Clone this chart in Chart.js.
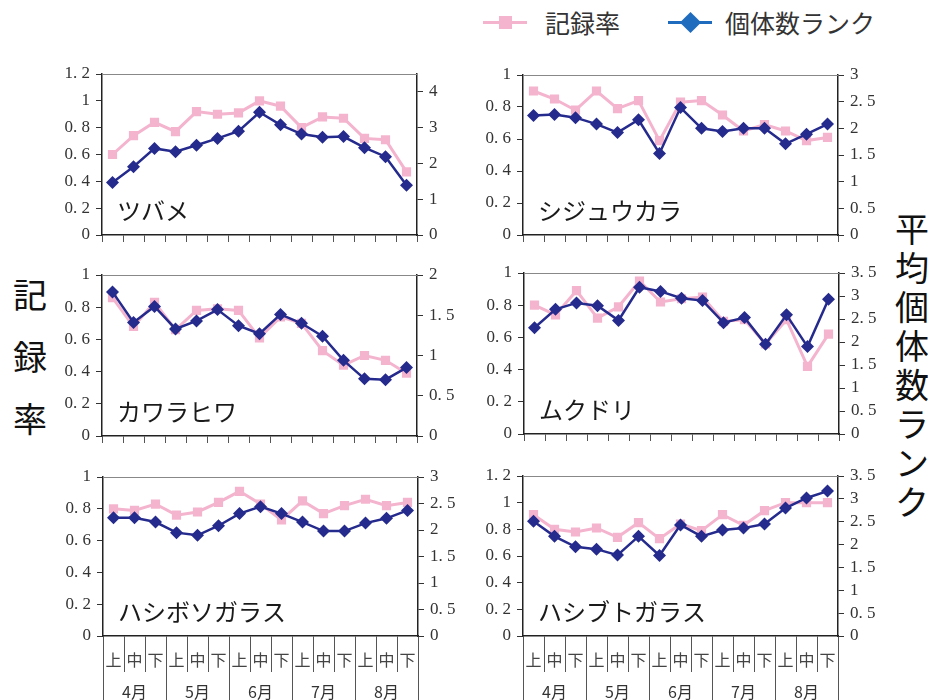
<!DOCTYPE html>
<html><head><meta charset="utf-8">
<script src="https://cdn.jsdelivr.net/npm/chart.js@4.4.1/dist/chart.umd.min.js"></script>
<style>
body{margin:0;background:#fff;width:928px;height:700px;overflow:hidden;position:relative;font-family:"Noto Sans CJK JP",sans-serif;}
canvas{position:absolute;}
.vt{position:absolute;text-align:center;color:#111;font-family:"Noto Sans CJK JP";}
.lg{position:absolute;font-family:"Noto Sans CJK JP";font-size:25px;color:#333;line-height:30px;}
.ln{position:absolute;height:3px;}
.mk{position:absolute;}
</style></head><body>
<div class="vt" style="left:10px;top:263px;width:40px;font-size:34px;line-height:62px;">記<br>録<br>率</div>
<div class="vt" style="left:892px;top:208px;width:40px;font-size:34px;line-height:39px;">平<br>均<br>個<br>体<br>数<br>ラ<br>ン<br>ク</div>
<div class="ln" style="left:483px;top:21px;width:44px;background:#F4B4CE;"></div>
<div class="mk" style="left:499px;top:16px;width:13px;height:13px;background:#F4B4CE;"></div>
<div class="lg" style="left:545px;top:7px;">記録率</div>
<div class="ln" style="left:668px;top:21px;width:44px;background:#1F6CBF;"></div>
<div class="mk" style="left:683px;top:15px;width:15px;height:15px;background:#1F6CBF;transform:rotate(45deg);"></div>
<div class="lg" style="left:725px;top:7px;">個体数ランク</div>
<script>
const months = ['4月','5月','6月','7月','8月'];
const thirds = ['上','中','下'];
const categories = months.flatMap(() => thirds);

const tsubameRate    = [0.60,0.74,0.84,0.77,0.92,0.90,0.91,1.00,0.96,0.80,0.88,0.87,0.72,0.71,0.47];
const tsubameRank    = [1.47,1.91,2.42,2.33,2.51,2.70,2.90,3.43,3.08,2.82,2.73,2.75,2.44,2.19,1.39];
const shijukaraRate  = [0.90,0.85,0.78,0.90,0.79,0.84,0.59,0.83,0.84,0.75,0.65,0.69,0.65,0.59,0.61];
const shijukaraRank  = [2.24,2.26,2.20,2.08,1.92,2.16,1.53,2.39,2.00,1.94,2.00,2.00,1.71,1.89,2.08];
const kawarahiwaRate = [0.86,0.68,0.83,0.66,0.78,0.79,0.78,0.61,0.74,0.70,0.53,0.44,0.50,0.47,0.39];
const kawarahiwaRank = [1.79,1.41,1.61,1.33,1.43,1.57,1.37,1.27,1.51,1.40,1.24,0.94,0.71,0.70,0.85];
const mukudoriRate   = [0.80,0.74,0.89,0.72,0.79,0.95,0.82,0.84,0.85,0.70,0.71,0.56,0.71,0.42,0.62];
const mukudoriRank   = [2.31,2.71,2.85,2.79,2.47,3.19,3.10,2.95,2.90,2.42,2.53,1.95,2.59,1.90,2.93];
const hashibosoRate  = [0.80,0.79,0.83,0.76,0.78,0.84,0.91,0.83,0.73,0.85,0.77,0.82,0.86,0.82,0.84];
const hashibosoRank  = [2.23,2.23,2.15,1.95,1.90,2.08,2.31,2.44,2.31,2.15,1.98,1.98,2.13,2.22,2.37];
const hashibutoRate  = [0.91,0.80,0.78,0.81,0.74,0.85,0.73,0.84,0.79,0.91,0.83,0.94,1.00,1.00,1.00];
const hashibutoRank  = [2.51,2.18,1.95,1.90,1.77,2.18,1.76,2.43,2.18,2.32,2.36,2.45,2.80,3.02,3.17];

const seriesNames = ['記録率','個体数ランク'];

const panels = [
  {name:'ツバメ',        rate:tsubameRate,    rank:tsubameRank,    lMax:1.2, lStep:0.2, rMax:4.5, rStep:1,   rTop:4,   l:102, t:74,  b:235, last:false},
  {name:'シジュウカラ',  rate:shijukaraRate,  rank:shijukaraRank,  lMax:1,   lStep:0.2, rMax:3,   rStep:0.5, rTop:3,   l:523, t:75,  b:235, last:false},
  {name:'カワラヒワ',    rate:kawarahiwaRate, rank:kawarahiwaRank, lMax:1,   lStep:0.2, rMax:2,   rStep:0.5, rTop:2,   l:102, t:275, b:436, last:false},
  {name:'ムクドリ',      rate:mukudoriRate,   rank:mukudoriRank,   lMax:1,   lStep:0.2, rMax:3.5, rStep:0.5, rTop:3.5, l:524, t:273, b:434, last:false},
  {name:'ハシボソガラス',rate:hashibosoRate,  rank:hashibosoRank,  lMax:1,   lStep:0.2, rMax:3,   rStep:0.5, rTop:3,   l:103, t:477, b:636, last:true},
  {name:'ハシブトガラス',rate:hashibutoRate,  rank:hashibutoRank,  lMax:1.2, lStep:0.2, rMax:3.5, rStep:0.5, rTop:3.5, l:523, t:476, b:636, last:true}
];

const PINK = '#F4B4CE', NAVY = '#252A8D';
function fmt(v){ const r = Math.round(v*10)/10; if (Number.isInteger(r)) return String(r); return r.toFixed(1).replace('.', '. '); }
function zeroPad(s){ s.paddingTop = 0; s.paddingBottom = 0; s.paddingLeft = 0; s.paddingRight = 0; }

const frameAndLabel = {
  id:'frameAndLabel',
  beforeDatasetsDraw(chart, args, opts){
    const {ctx, chartArea:a} = chart;
    ctx.save();
    ctx.strokeStyle = '#888'; ctx.lineWidth = 1;
    ctx.beginPath(); ctx.moveTo(a.left, a.top+0.5); ctx.lineTo(a.right, a.top+0.5); ctx.stroke();
    ctx.fillStyle = '#1a1a1a';
    ctx.font = '24px "Noto Sans CJK JP"';
    ctx.textBaseline = 'middle';
    ctx.fillText(opts.text, a.left + 15, a.bottom - 24);
    ctx.restore();
  }
};

const PADL = 50, PADT = 12, W = 315;
panels.forEach(p => {
  const xh = p.last ? 64 : 12;
  const cv = document.createElement('canvas');
  const cw = W + 2*PADL, ch = (p.b - p.t) + PADT + xh;
  cv.width = cw; cv.height = ch;
  cv.style.left = (p.l - PADL) + 'px'; cv.style.top = (p.t - PADT) + 'px';
  cv.style.width = cw + 'px'; cv.style.height = ch + 'px';
  document.body.appendChild(cv);

  const scales = {
    x: {
      type:'category', labels: categories, offset:true, position:'bottom', weight:0,
      grid:{offset:true, drawOnChartArea:false, drawTicks:true, tickLength: p.last ? 36 : 7, color:'#555', lineWidth:1},
      border:{display:true, color:'#222', width:1.5},
      ticks:{display:p.last, autoSkip:false, maxRotation:0, padding:-22, color:'#444', font:{family:'"Noto Sans CJK JP"', size:16}},
      afterFit: s => { s.height = p.last ? 36 : 12; zeroPad(s); }
    },
    y: {
      type:'linear', position:'left', min:0, max:p.lMax,
      grid:{drawOnChartArea:false, tickLength:6, color:'#333'},
      border:{color:'#222', width:1.5},
      ticks:{stepSize:p.lStep, autoSkip:false, maxTicksLimit:50, padding:6, color:'#333', font:{family:'Liberation Serif', size:17}, callback: v => fmt(v)},
      afterFit: s => { s.width = PADL; zeroPad(s); }
    },
    y1: {
      type:'linear', position:'right', min:0, max:p.rMax,
      grid:{drawOnChartArea:false, tickLength:6, color:'#333'},
      border:{color:'#222', width:1.5},
      ticks:{stepSize:p.rStep, autoSkip:false, maxTicksLimit:50, includeBounds:false, padding:6, color:'#333', font:{family:'Liberation Serif', size:17}, callback: v => fmt(v)},
      afterBuildTicks: s => { s.ticks = s.ticks.filter(t => t.value <= p.rTop + 1e-9); },
      afterFit: s => { s.width = PADL; zeroPad(s); }
    }
  };
  if (p.last) {
    scales.x2 = {
      type:'category', labels: months, offset:true, position:'bottom', weight:1,
      grid:{offset:true, drawOnChartArea:false, drawTicks:true, tickLength:30, color:'#555', lineWidth:1},
      border:{display:false},
      ticks:{autoSkip:false, maxRotation:0, padding:-20, color:'#333', font:{family:'"Noto Sans CJK JP"', size:16}},
      afterFit: s => { s.height = 28; zeroPad(s); }
    };
  }

  new Chart(cv, {
    type:'line',
    data:{
      labels: categories,
      datasets:[
        {label:seriesNames[0], data:p.rate, yAxisID:'y', xAxisID:'x', order:2,
         borderColor:PINK, backgroundColor:PINK, borderWidth:3, pointStyle:'rect', pointRadius:6.5, pointBorderWidth:0, tension:0},
        {label:seriesNames[1], data:p.rank, yAxisID:'y1', xAxisID:'x', order:1,
         borderColor:NAVY, backgroundColor:NAVY, borderWidth:2.5, pointStyle:'rectRot', pointRadius:6.5, pointBorderWidth:0, tension:0}
      ]
    },
    options:{
      responsive:false, animation:false, devicePixelRatio:1,
      layout:{padding:{top:PADT, left:0, right:0, bottom:0}},
      plugins:{legend:{display:false}, tooltip:{enabled:false}, frameAndLabel:{text:p.name}},
      scales
    },
    plugins:[frameAndLabel]
  });
});
</script>
</body></html>
